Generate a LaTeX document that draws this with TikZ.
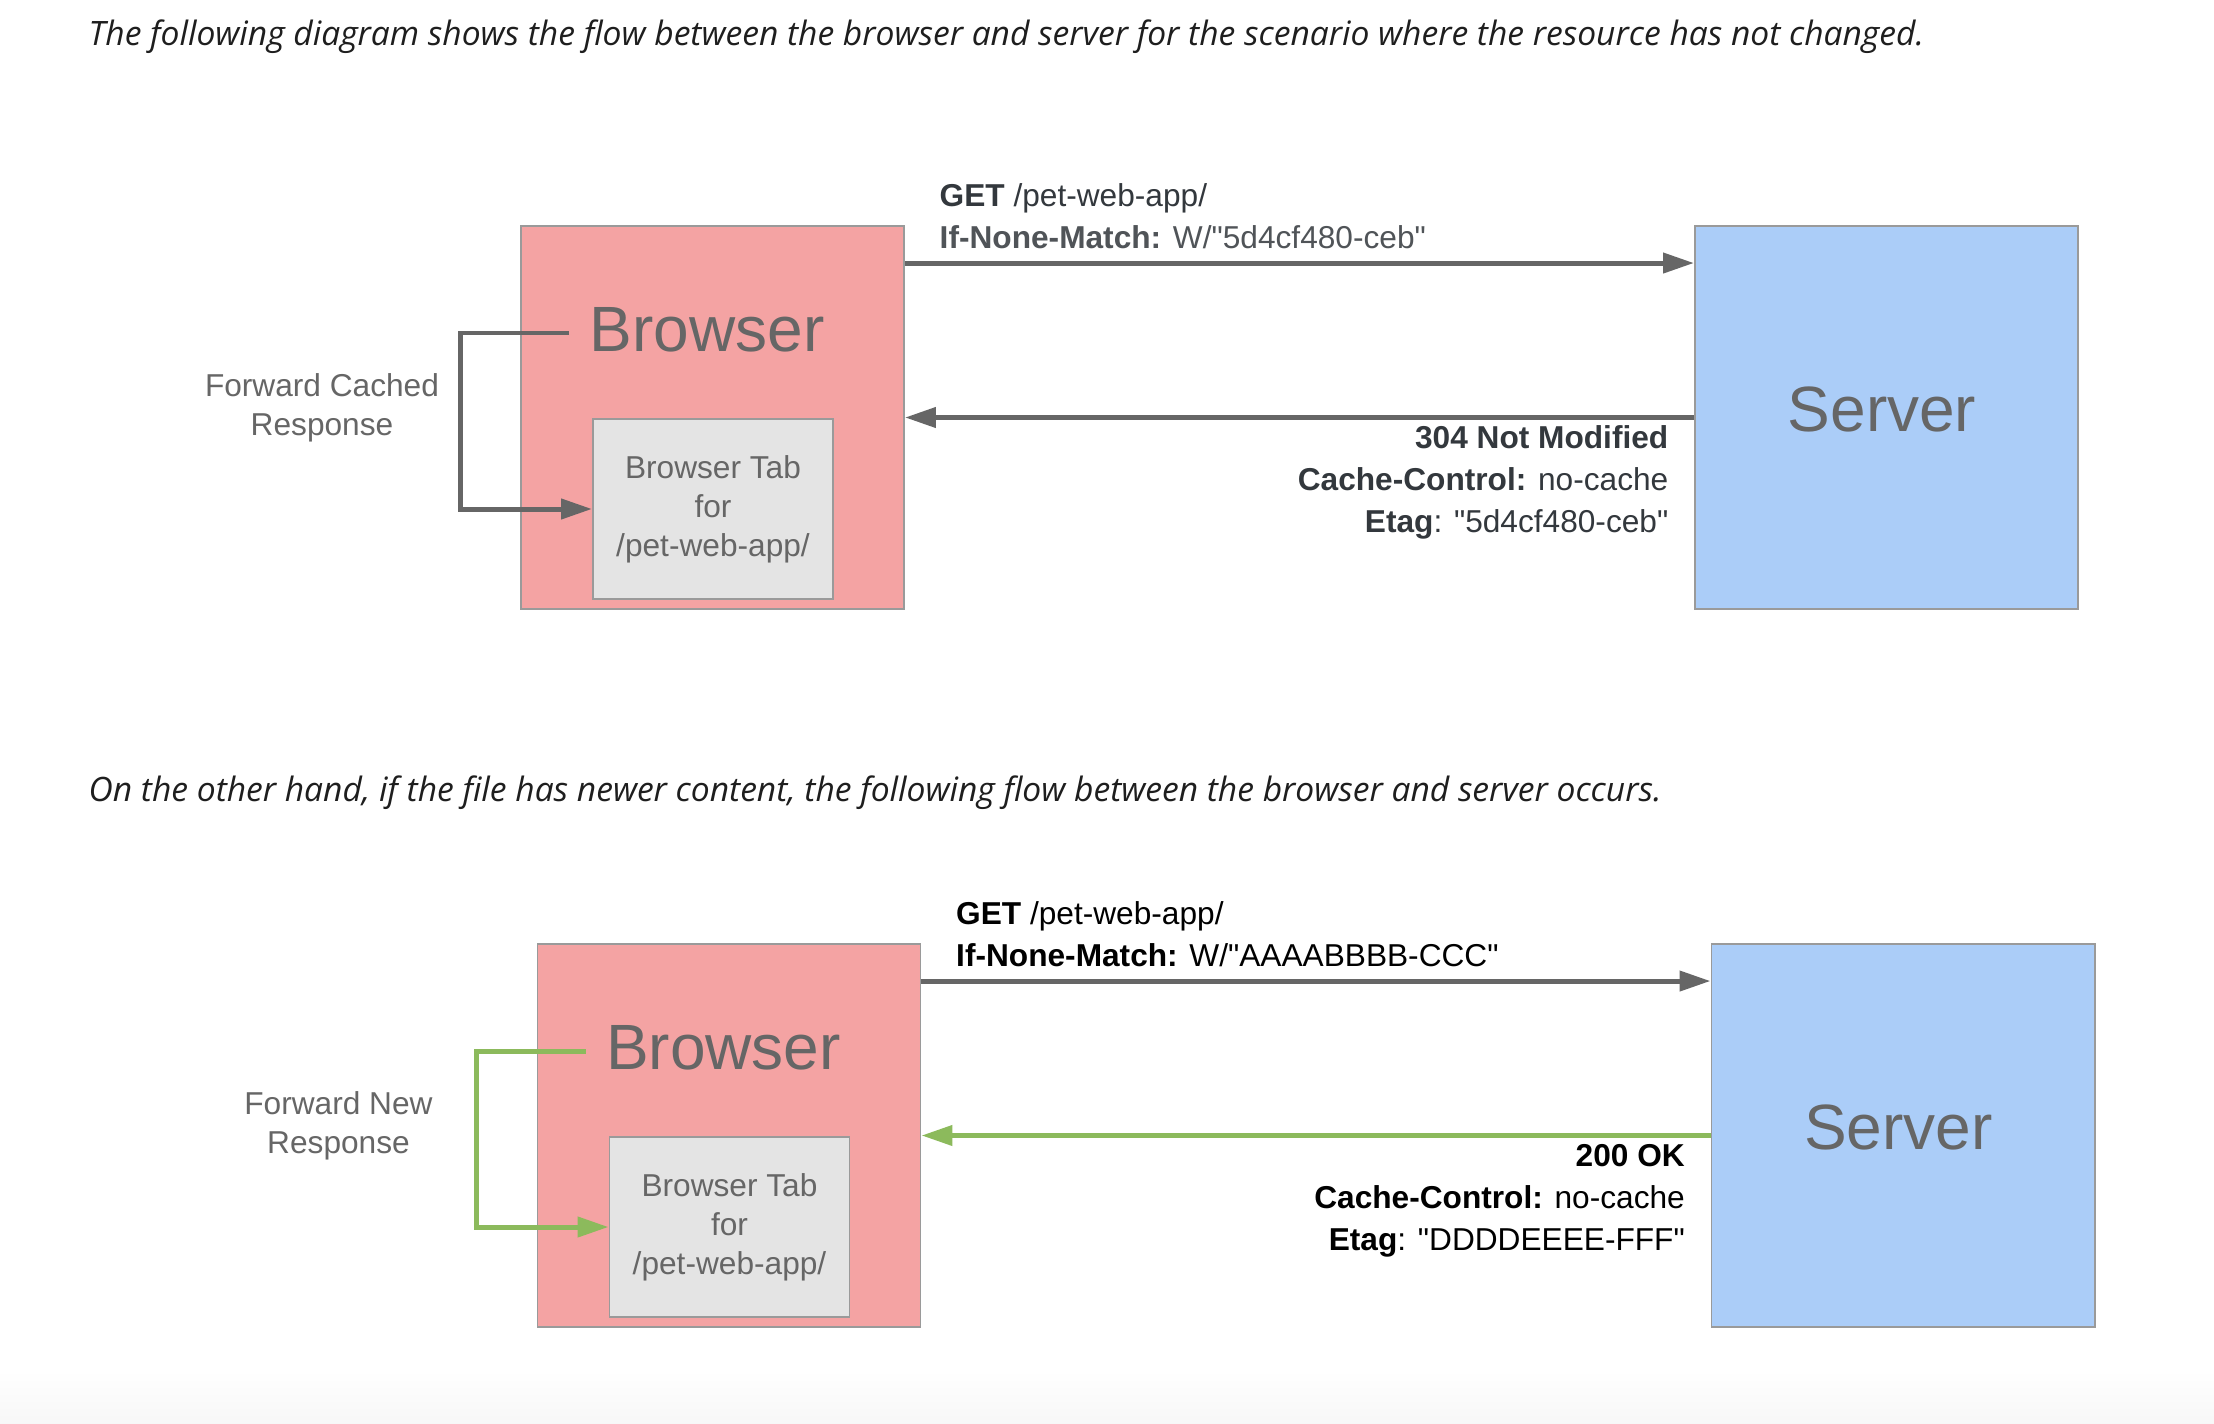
\documentclass[tikz,border=0pt]{standalone}
\usepackage{fontspec}
\setmainfont{Liberation Sans}[Ligatures=TeXOff]
\newfontfamily\hdrfont{Open Sans}
\usetikzlibrary{arrows.meta}
\definecolor{browserfill}{HTML}{F4A3A3}
\definecolor{serverfill}{HTML}{ABCDF8}
\definecolor{tabfill}{HTML}{E4E4E4}
\definecolor{boxline}{HTML}{9A9A9A}
\definecolor{arrowgray}{HTML}{666666}
\definecolor{okgreen}{HTML}{8CBA5C}
\definecolor{txtgray}{HTML}{666666}
\definecolor{lbldark}{HTML}{33383D}
\definecolor{lblmid}{HTML}{505458}
\definecolor{hdrcolor}{HTML}{1E1E1E}
\tikzset{
  bigbox/.style={draw=boxline, line width=0.5pt, minimum width=3.83cm, minimum height=3.83cm, inner sep=0pt},
  tabbox/.style={draw=boxline, line width=0.5pt, fill=tabfill, minimum width=2.40cm, minimum height=1.80cm, inner sep=0pt,
    align=center, text=txtgray, font=\fontsize{9pt}{11.1pt}\selectfont},
  bigtext/.style={text=txtgray, inner sep=0pt, font=\fontsize{18.2pt}{21pt}\selectfont},
  sidetext/.style={text=txtgray, inner sep=0pt, align=center, font=\fontsize{9pt}{11.1pt}\selectfont},
  lbl/.style={inner sep=0pt, font=\fontsize{9pt}{11pt}\selectfont},
  hdr/.style={inner sep=0pt, text=hdrcolor, font=\hdrfont\itshape\fontsize{9.55pt}{11.5pt}\selectfont},
  conn/.style={line width=1.42pt, -{Triangle[length=8.8pt,width=5.6pt]}},
}
% #1 GET line colour, #2 If-None-Match line colour, #3 etag request value,
% #4 forward word, #5 response arrow colour, #6 status, #7 etag value, #8 response text colour
\newcommand\flowpic[8]{%
  \node[bigbox, fill=browserfill] (browser) at (712.5,417.5) {};
  \node[tabbox] (tab) at (713,509) {Browser Tab\\for\\/pet-web-app/};
  \node[bigtext, anchor=base] (browserlbl) at (707,351) {Browser};
  \node[bigbox, fill=serverfill] (server) at (1886.5,417.5) {};
  \node[bigtext, anchor=base] (serverlbl) at (1882,431) {Server};
  \node[sidetext] (fwdlbl) at (322,408) {Forward #4\\Response};
  \node[lbl, anchor=base west, text=#1] (get1) at (939,206) {\textbf{GET} /pet-web-app/};
  \node[lbl, anchor=base west, text=#2] (get2) at (939,248) {\textbf{If-None-Match:} W/"#3"};
  \node[lbl, anchor=base east, text=#8] (res1) at (1669,448) {\textbf{#6}};
  \node[lbl, anchor=base east, text=#8] (res2) at (1669,490) {\textbf{Cache-Control:} no-cache};
  \node[lbl, anchor=base east, text=#8] (res3) at (1669,532) {\textbf{Etag}: "#7"};
  \coordinate (fwdstart) at (569,333);
  \coordinate (fwdbend) at (460,333);
  \draw[conn, draw=#5] (fwdstart) -- (fwdbend) |- (tab.west);
  \draw[conn, draw=arrowgray] ([yshift=-0.38cm]browser.north east) -- ([yshift=-0.38cm]server.north west);
  \draw[conn, draw=#5] (server.west) -- (browser.east);
}
\begin{document}
\begin{tikzpicture}[x=0.01cm, y=-0.01cm]
  \useasboundingbox (0,0) rectangle (2214,1424);
  \fill[white] (0,0) rectangle (2214,1424);
  \shade[top color=white, bottom color=black!3] (0,1370) rectangle (2214,1424);
  \node[hdr, anchor=base west] (hdr1) at (88,45) {The following diagram shows the flow between the browser and server for the scenario where the resource has not changed.};
  \node[hdr, anchor=base west] (hdr2) at (88,801) {On the other hand, if the file has newer content, the following flow between the browser and server occurs.};
  \begin{scope}[name prefix=top-]
    \flowpic{lbldark}{lblmid}{5d4cf480-ceb}{Cached}{arrowgray}{304 Not Modified}{5d4cf480-ceb}{lbldark}
  \end{scope}
  \begin{scope}[name prefix=bot-, shift={(16.5,718)}]
    \flowpic{black}{black}{AAAABBBB-CCC}{New}{okgreen}{200 OK}{DDDDEEEE-FFF}{black}
  \end{scope}
\end{tikzpicture}
\end{document}
